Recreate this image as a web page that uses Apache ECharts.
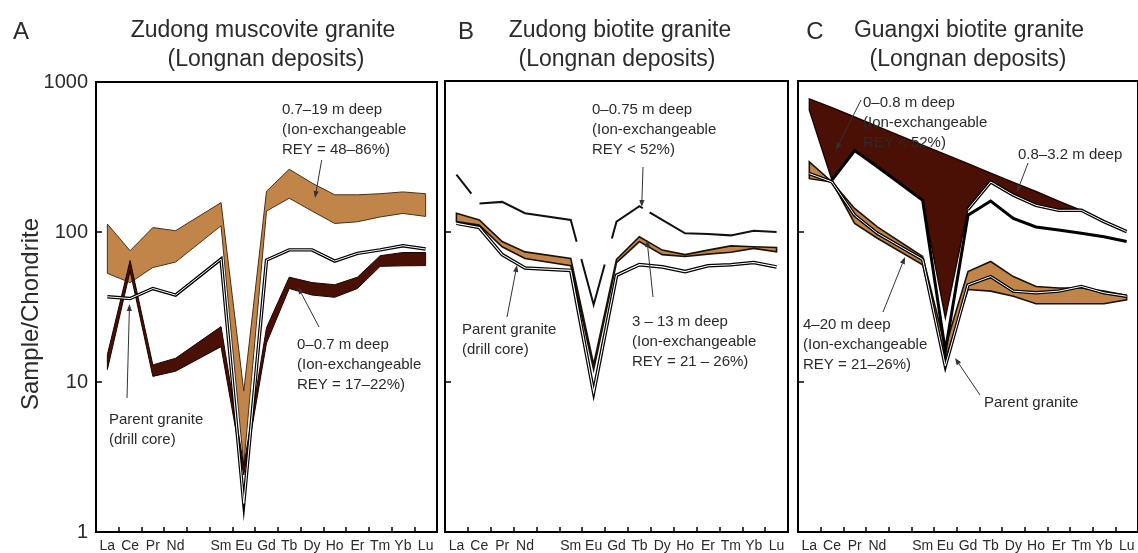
<!DOCTYPE html>
<html><head><meta charset="utf-8">
<script src="https://cdn.jsdelivr.net/npm/echarts@6/dist/echarts.min.js"></script>
<style>html,body{margin:0;padding:0;background:#fff}#c{width:1138px;height:553px}</style>
</head><body><div id="c"></div>
<script>
// ---------- data ----------
const categories = ['La','Ce','Pr','Nd','Pm','Sm','Eu','Gd','Tb','Dy','Ho','Er','Tm','Yb','Lu'];
const tickLabels = ['La','Ce','Pr','Nd','','Sm','Eu','Gd','Tb','Dy','Ho','Er','Tm','Yb','Lu'];
const yTicks = [1, 10, 100, 1000];

// Panel A: Zudong muscovite granite
const A_light_hi = [113, 75, 107, 102, null, 157, 8.7, 187, 262, 212, 177, 177, 180, 185, 180];
const A_light_lo = [53, 46, 58, 63, null, 110, 2.8, 138, 168, 138, 114, 117, 126, 133, 127];
const A_dark_hi  = [15.2, 64.5, 13, 14.4, null, 23.4, 2.75, 23, 50, 46, 44.5, 50, 69.5, 73, 73];
const A_dark_lo  = [12.1, 55, 10.9, 11.8, null, 17.2, 2.4, 18.2, 42, 38, 36.7, 42, 59, 59.5, 59.7];
const A_parent   = [37, 36, 42, 38, null, 66, 1.55, 65, 76, 76, 64, 72, 76, 81, 77];

// Panel B: Zudong biotite granite
const B_surface = [238, 153, 157, 132, null, 119, 32.5, 116, 147, 119, 97, 96, 94, 101, 99];
const B_band_hi = [132, 119, 85.5, 73, null, 66, 13, 65, 92, 75, 70, 75, 80, 79, 78];
const B_band_lo = [116, 110, 79, 66, null, 59, 12, 62, 85.5, 70, 68, 70.5, 72.5, 77, 73];
const B_parent  = [113, 106, 70, 57, null, 55, 8.5, 51, 60, 58, 54, 59, 60, 62, 58];

// Panel C: Guangxi biotite granite
const C_dark_hi  = [760, 666, 576, 499, null, 375, 325, 282, 244, 212, 184, 159, 138, 116, 99.6];
const C_dark_lo  = [640, 219, 345, 269, null, 161, 26.5, 140, 213, 174, 149, 138, 138, 116, 99.6];
const C_upper    = [null, null, null, null, null, null, null, 140, 213, 174, 149, 138, 138, 116, 99.6];
const C_lower    = [null, 219, 345, 269, null, 161, 16, 128, 159, 122, 107, 102, 97, 92, 85.5];
const C_light_hi = [290, 213, 142, 107, null, 68, 17, 54, 63, 50, 43, 42, 42, 40, 37.5];
const C_light_lo = [224, 213, 113, 90, null, 60, 14, 41, 40, 37, 33, 33, 33, 33, 35];
const C_parent   = [242, 213, 128, 97, null, 65, 12.7, 44, 50, 40, 39, 40, 43, 39, 37];

// ---------- styling ----------
const FONT = '"Liberation Sans", Arial, Helvetica, sans-serif';
const LIGHT = '#c28549', DARK = '#4a0f05';
const TXT = '#2b2b2b';
const B_DASH = [24, 13, 117, 18, 89, 27, 49, 8, 600];

function band(g, hi, lo, fill, stroke, lw, z) {
  return {
    type: 'custom', xAxisIndex: g, yAxisIndex: g, z: z, silent: true, clip: false,
    data: [[0, hi[0]]],
    renderItem: function (params, api) {
      if (params.dataIndex !== 0) return null;
      const pts = [];
      for (let i = 0; i < hi.length; i++) if (hi[i] != null) pts.push(api.coord([i, hi[i]]));
      for (let i = lo.length - 1; i >= 0; i--) if (lo[i] != null) pts.push(api.coord([i, lo[i]]));
      return { type: 'polygon', shape: { points: pts },
        style: { fill: fill, stroke: stroke, lineWidth: lw, lineJoin: 'miter', miterLimit: 20 } };
    }
  };
}
function line(g, data, color, width, z, type) {
  return {
    type: 'line', xAxisIndex: g, yAxisIndex: g, data: data, connectNulls: true,
    symbol: 'none', silent: true, z: z, animation: false,
    lineStyle: { color: color, width: width, type: type || 'solid', join: 'miter', miterLimit: 20, cap: 'butt' },
    emphasis: { disabled: true }
  };
}
function dbl(g, data, z, wb, ww) {
  return [line(g, data, '#000', wb || 3.6, z), line(g, data, '#fff', ww || 1.1, z + 0.1)];
}

const grids = [
  { left: 96, top: 82, width: 341, height: 454 },
  { left: 445, top: 81, width: 343, height: 455 },
  { left: 798, top: 81, width: 340, height: 455 }
];

const xAxes = grids.map((g, i) => ({
  type: 'category', gridIndex: i, data: categories, boundaryGap: true,
  axisLine: { lineStyle: { color: '#000', width: 2 } },
  axisTick: { show: true, inside: true, length: 5, interval: 0, lineStyle: { color: '#000', width: 1.5 } },
  axisLabel: { interval: 0, fontSize: 14, color: TXT, margin: 7, fontFamily: FONT,
    formatter: (v, idx) => tickLabels[idx] },
  splitLine: { show: false }
}));
const yAxes = grids.map((g, i) => ({
  type: 'log', logBase: 10, min: yTicks[0], max: yTicks[yTicks.length - 1], gridIndex: i,
  axisLine: { show: true, lineStyle: { color: '#000', width: 2 } },
  axisTick: { show: true, inside: true, length: 6, lineStyle: { color: '#000', width: 1.5 } },
  axisLabel: { show: i === 0, fontSize: 20, color: TXT, margin: 8, fontFamily: FONT,
    formatter: v => String(Math.round(v)) },
  splitLine: { show: false }, minorTick: { show: false }
}));

const series = [].concat(
  // A
  band(0, A_light_hi, A_light_lo, LIGHT, '#4a3018', 1, 2),
  band(0, A_dark_hi, A_dark_lo, DARK, '#1a0400', 1, 3),
  dbl(0, A_parent, 4, 3.4, 1.0),
  // B
  band(1, B_band_hi, B_band_lo, LIGHT, '#1a1208', 1.6, 2),
  dbl(1, B_parent, 4, 3.6, 1.1),
  [line(1, B_surface, '#111', 2, 5, B_DASH)],
  // C
  band(2, C_light_hi, C_light_lo, LIGHT, '#1a1208', 1.6, 2),
  dbl(2, C_parent, 3, 3.4, 1.0),
  band(2, C_dark_hi, C_dark_lo, DARK, '#1a0400', 1.4, 4),
  [line(2, C_lower, '#000', 3, 5)],
  dbl(2, C_upper, 6, 3.4, 1.0)
);

// ---------- graphic annotations ----------
const G = [];
function text(x, y, s, size) {
  G.push({ type: 'text', x: x, y: y, z: 100, silent: true,
    style: { text: s, fontSize: size, fontFamily: FONT, fill: TXT, lineHeight: 20,
      align: 'left', verticalAlign: 'top' } });
}
function ctext(x, y, s, size) {
  G.push({ type: 'text', x: x, y: y, z: 100, silent: true,
    style: { text: s, fontSize: size, fontFamily: FONT, fill: TXT, align: 'center', verticalAlign: 'middle' } });
}
function arrow(x1, y1, x2, y2) {
  const dx = x2 - x1, dy = y2 - y1, L = Math.hypot(dx, dy), ux = dx / L, uy = dy / L, h = 7, w = 2.6;
  const bx = x2 - ux * h, by = y2 - uy * h;
  G.push({ type: 'line', z: 100, silent: true, shape: { x1: x1, y1: y1, x2: bx, y2: by }, style: { stroke: '#333', lineWidth: 1 } });
  G.push({ type: 'polygon', z: 100, silent: true, shape: { points: [[x2, y2], [bx - uy * w, by + ux * w], [bx + uy * w, by - ux * w]] }, style: { fill: '#333' } });
}

// panel letters & titles
ctext(21, 32, 'A', 24); ctext(466, 32, 'B', 24); ctext(815, 32, 'C', 24);
ctext(263, 31, 'Zudong muscovite granite', 23); ctext(266, 60, '(Longnan deposits)', 23);
ctext(620, 31, 'Zudong biotite granite', 23); ctext(617, 60, '(Longnan deposits)', 23);
ctext(969, 31, 'Guangxi biotite granite', 23); ctext(968, 60, '(Longnan deposits)', 23);
G.push({ type: 'text', x: 31, y: 314, rotation: Math.PI / 2, z: 100, silent: true,
  style: { text: 'Sample/Chondrite', fontSize: 24, fontFamily: FONT, fill: TXT, align: 'center', verticalAlign: 'middle' } });

// A
text(282, 100, '0.7–19 m deep\n(Ion-exchangeable\nREY = 48–86%)', 15);
arrow(321.7, 160, 315, 198);
text(297, 335, '0–0.7 m deep\n(Ion-exchangeable\nREY = 17–22%)', 15);
arrow(319, 327, 298, 287);
text(109, 410, 'Parent granite\n(drill core)', 15);
arrow(127, 398, 129.5, 304);
// B
text(592, 100, '0–0.75 m deep\n(Ion-exchangeable\nREY < 52%)', 15);
arrow(643, 167, 641.7, 207);
text(632, 312, '3 – 13 m deep\n(Ion-exchangeable\nREY = 21 – 26%)', 15);
arrow(653, 297, 647, 240);
text(462, 320, 'Parent granite\n(drill core)', 15);
arrow(507, 317, 517, 265);
// C
text(863, 93, '0–0.8 m deep\n(Ion-exchangeable\nREY < 52%)', 15);
arrow(861, 100, 836, 150);
text(1018, 145, '0.8–3.2 m deep', 15);
arrow(1028, 163, 1017, 192);
text(803, 315, '4–20 m deep\n(Ion-exchangeable\nREY = 21–26%)', 15);
arrow(883, 312, 905, 257);
text(984, 393, 'Parent granite', 15);
arrow(980, 395, 955, 358);

const chart = echarts.init(document.getElementById('c'), null, { renderer: 'canvas' });
chart.setOption({
  animation: false,
  backgroundColor: '#fff',
  grid: grids.map(g => Object.assign({ show: true, borderColor: '#000', borderWidth: 2, backgroundColor: 'transparent' }, g)),
  xAxis: xAxes,
  yAxis: yAxes,
  series: series,
  graphic: G
});
</script></body></html>
